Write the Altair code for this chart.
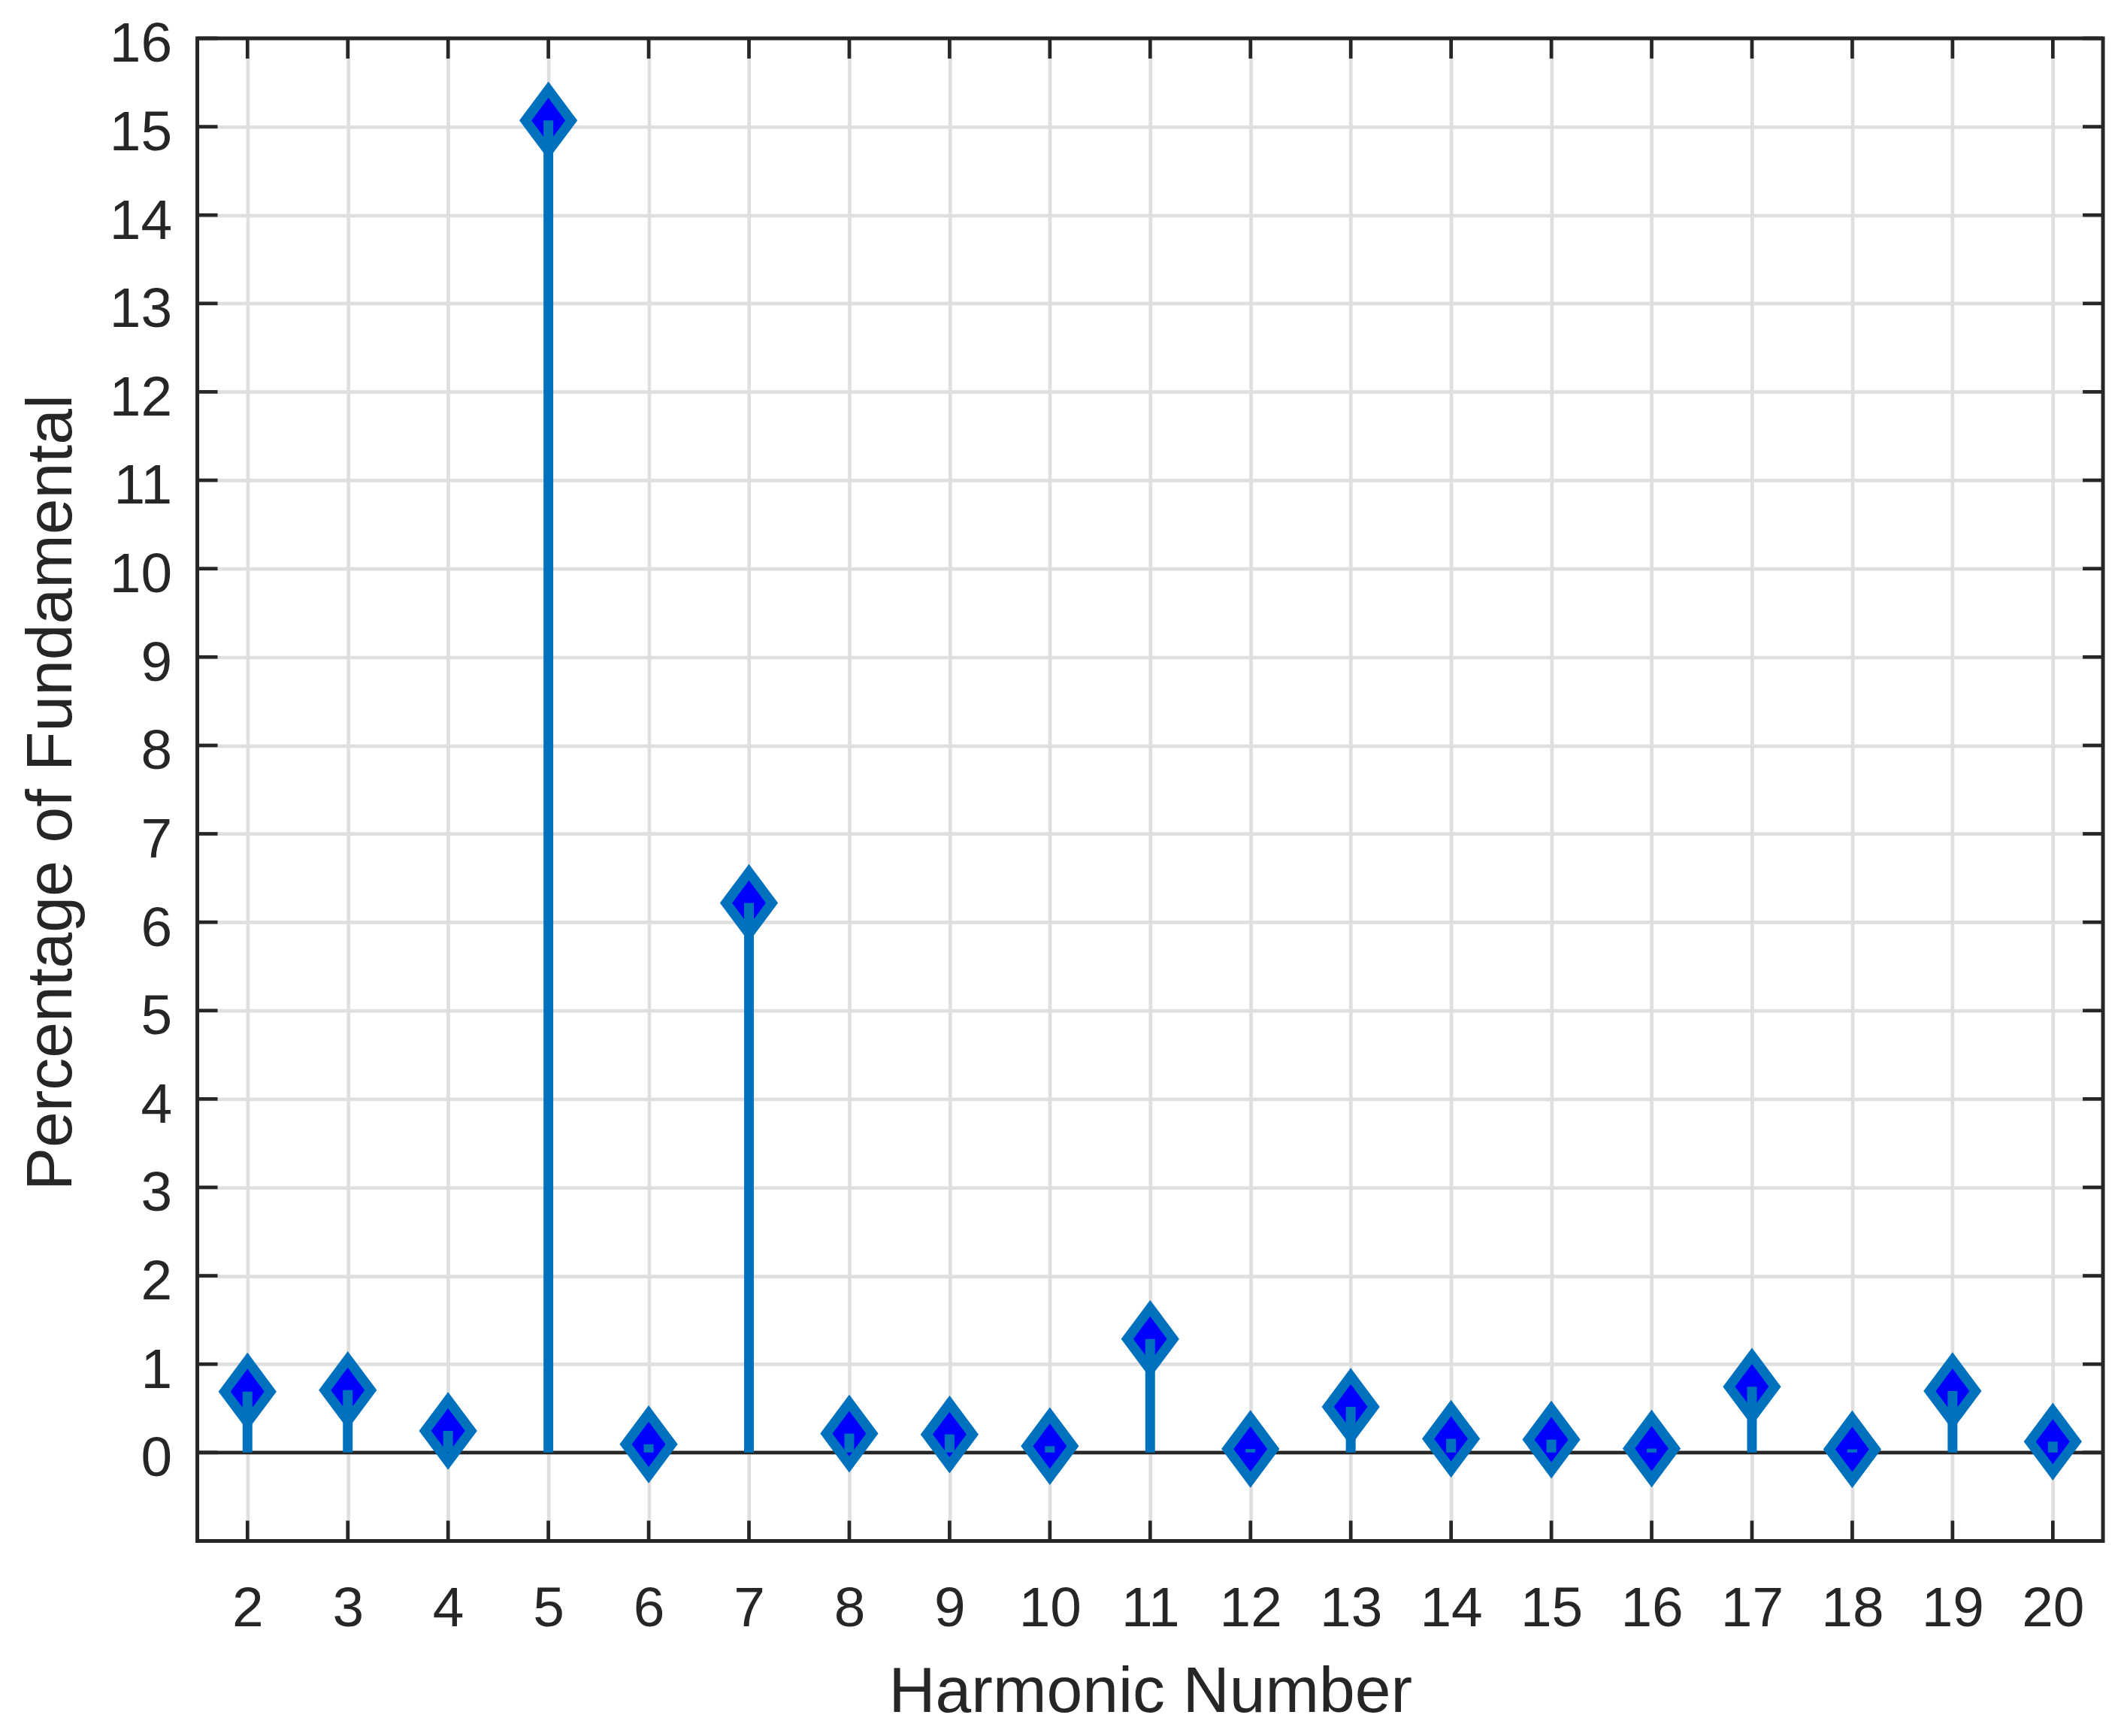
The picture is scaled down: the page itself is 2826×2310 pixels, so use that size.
import altair as alt
import pandas as pd

harmonics = [2, 3, 4, 5, 6, 7, 8, 9, 10, 11, 12, 13, 14, 15, 16, 17, 18, 19, 20]
percentages = [0.69, 0.705, 0.245, 15.07, 0.093, 6.217, 0.214, 0.205, 0.072, 1.285,
               0.04, 0.517, 0.155, 0.146, 0.045, 0.745, 0.036, 0.695, 0.123]
y_ticks = list(range(0, 17))

W, H = 2540, 2003
TICK = 27
FONT = "Liberation Sans"
DARK = "#262626"
LINE_BLUE = "#0072BD"

df = pd.DataFrame({"harmonic": harmonics, "value": percentages})
xt = pd.DataFrame({"harmonic": harmonics})
yt = pd.DataFrame({"value": y_ticks})
zero = pd.DataFrame({"value": [0]})

x_scale = alt.Scale(domain=[1.5, 20.5], nice=False, zero=False)
y_scale = alt.Scale(domain=[-1, 16], nice=False, zero=False)

x_axis = alt.Axis(values=harmonics, title="Harmonic Number", grid=True, ticks=False, tickSize=0,
                  domain=False, labelPadding=54, labelBaseline="top", labelFontSize=75,
                  labelFont=FONT, labelColor=DARK, labelFlush=False, labelOverlap=False,
                  titleFont=FONT, titleFontSize=86, titleFontWeight="normal", titleColor=DARK,
                  titleX=W / 2, titleY=227, titleBaseline="alphabetic", titleAlign="center",
                  gridColor="#DFDFDF", gridWidth=4.7, gridOpacity=1)
y_axis = alt.Axis(values=y_ticks, title="Percentage of Fundamental", grid=True, ticks=False, tickSize=0,
                  domain=False, labelPadding=34, labelBaseline="alphabetic", labelOffset=31,
                  labelFontSize=75, labelFont=FONT, labelColor=DARK, labelFlush=False,
                  labelOverlap=False, titleFont=FONT, titleFontSize=86, titleFontWeight="normal",
                  titleColor=DARK, titleX=-168, titleY=1005, titleAngle=270,
                  titleBaseline="alphabetic", titleAlign="center",
                  gridColor="#DFDFDF", gridWidth=4.7, gridOpacity=1)

X = alt.X("harmonic:Q", scale=x_scale, axis=x_axis)
Y = alt.Y("value:Q", scale=y_scale, axis=y_axis)

zero_line = alt.Chart(zero).mark_rule(color=DARK, strokeWidth=4.7).encode(y=Y)

x_ticks_bottom = alt.Chart(xt).mark_rule(color=DARK, strokeWidth=4.7).encode(
    x=X, y=alt.value(H), y2=alt.value(H - TICK))
x_ticks_top = alt.Chart(xt).mark_rule(color=DARK, strokeWidth=4.7).encode(
    x=X, y=alt.value(0), y2=alt.value(TICK))
y_ticks_left = alt.Chart(yt).mark_rule(color=DARK, strokeWidth=4.7).encode(
    y=Y, x=alt.value(0), x2=alt.value(TICK))
y_ticks_right = alt.Chart(yt).mark_rule(color=DARK, strokeWidth=4.7).encode(
    y=Y, x=alt.value(W - TICK), x2=alt.value(W))

diamond = "M0,-1L0.746,0L0,1L-0.746,0Z"
markers = alt.Chart(df).mark_point(
    shape=diamond, size=6724, fill="#0000FF", stroke=LINE_BLUE, strokeWidth=13,
    opacity=1, fillOpacity=1, strokeOpacity=1, strokeJoin="miter", strokeMiterLimit=10
).encode(x=X, y=Y)

stems = alt.Chart(df).mark_rule(color=LINE_BLUE, strokeWidth=13, strokeCap="butt").encode(
    x=X, y=Y, y2=alt.datum(0))

frame = alt.Chart(zero).mark_rect(filled=False, stroke=DARK, strokeWidth=5, fill="transparent").encode(
    x=alt.value(0), x2=alt.value(W), y=alt.value(0), y2=alt.value(H))

chart = alt.layer(
    zero_line, x_ticks_bottom, x_ticks_top, y_ticks_left, y_ticks_right, markers, stems, frame
).properties(
    width=W, height=H,
    autosize=alt.AutoSizeParams(type="none"),
    padding={"left": 255, "top": 41, "right": 20, "bottom": 250},
    background="white",
).configure_view(stroke=None)

chart.save("out.html", embed_options={"renderer": "svg", "actions": False})
